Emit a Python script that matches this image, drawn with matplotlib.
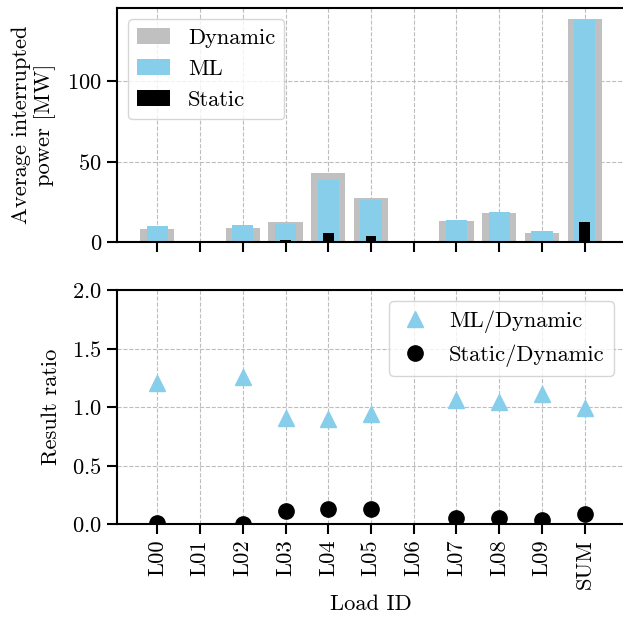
import numpy as np
import matplotlib
matplotlib.use("Agg")
import matplotlib.pyplot as plt

plt.rcParams['font.family'] = 'serif'
plt.rcParams['font.serif'] = ['cmr10']
plt.rcParams['mathtext.fontset'] = 'cm'
plt.rcParams['axes.formatter.use_mathtext'] = True
plt.rcParams['font.size'] = 16.2
plt.rcParams['axes.unicode_minus'] = False

loads = ['L00', 'L01', 'L02', 'L03', 'L04', 'L05', 'L06', 'L07', 'L08', 'L09', 'SUM']
dynamic = [8.1, 0.6, 8.7, 12.4, 42.9, 27.3, 0.5, 13.0, 18.0, 5.6, 138.5]
ml = [9.9, 0.5, 10.6, 11.2, 38.9, 26.0, 0.4, 13.7, 18.6, 6.6, 137.9]
static = [0.3, 0.0, 0.3, 1.4, 5.6, 3.5, 0.0, 0.8, 1.0, 0.3, 12.4]

ml_ratio = [1.21, np.nan, 1.26, 0.91, 0.90, 0.94, np.nan, 1.06, 1.04, 1.11, 0.99]
static_ratio = [0.01, np.nan, 0.0, 0.11, 0.13, 0.13, np.nan, 0.05, 0.05, 0.035, 0.09]

x = np.arange(len(loads))

fig = plt.figure(figsize=(6.23, 6.24), dpi=100)
ax1 = fig.add_axes([0.188, 0.612, 0.815, 0.375])
ax2 = fig.add_axes([0.188, 0.160, 0.815, 0.375], sharex=ax1)

for ax in (ax1, ax2):
    ax.set_axisbelow(True)
    ax.grid(True, linestyle='--', color='#bdbdbd', linewidth=0.8)
    for s in ax.spines.values():
        s.set_linewidth(1.5)
    ax.tick_params(direction='out', length=7.5, width=1.5)

ax1.bar(x, dynamic, width=0.8, color='#c0c0c0', label='Dynamic')
ax1.bar(x, ml, width=0.5, color='#87ceeb', label='ML')
ax1.bar(x, static, width=0.25, color='black', label='Static')
ax1.set_ylabel('Average interrupted\npower [MW]', labelpad=8)
ax1.set_yticks([0, 50, 100])
ax1.legend(loc='upper left', fancybox=True, framealpha=0.8, handlelength=1.45)
plt.setp(ax1.get_xticklabels(), visible=False)

ax2.plot(x, ml_ratio, '^', color='#87ceeb', markersize=11, label='ML/Dynamic')
ax2.plot(x, static_ratio, 'o', color='black', markersize=11, label='Static/Dynamic')
ax2.set_ylim(0, 2.0)
ax2.set_yticks([0.0, 0.5, 1.0, 1.5, 2.0])
ax2.set_ylabel('Result ratio', labelpad=8)
ax2.set_xlabel('Load ID')
ax2.set_xticks(x)
ax2.set_xticklabels(loads, rotation=90)
ax2.set_xlim(-0.94, 10.94)
ax2.legend(loc='upper right', fancybox=True, framealpha=0.8, handlelength=1.45)

fig.align_ylabels([ax1, ax2])
fig.savefig('out.png', dpi=100)
